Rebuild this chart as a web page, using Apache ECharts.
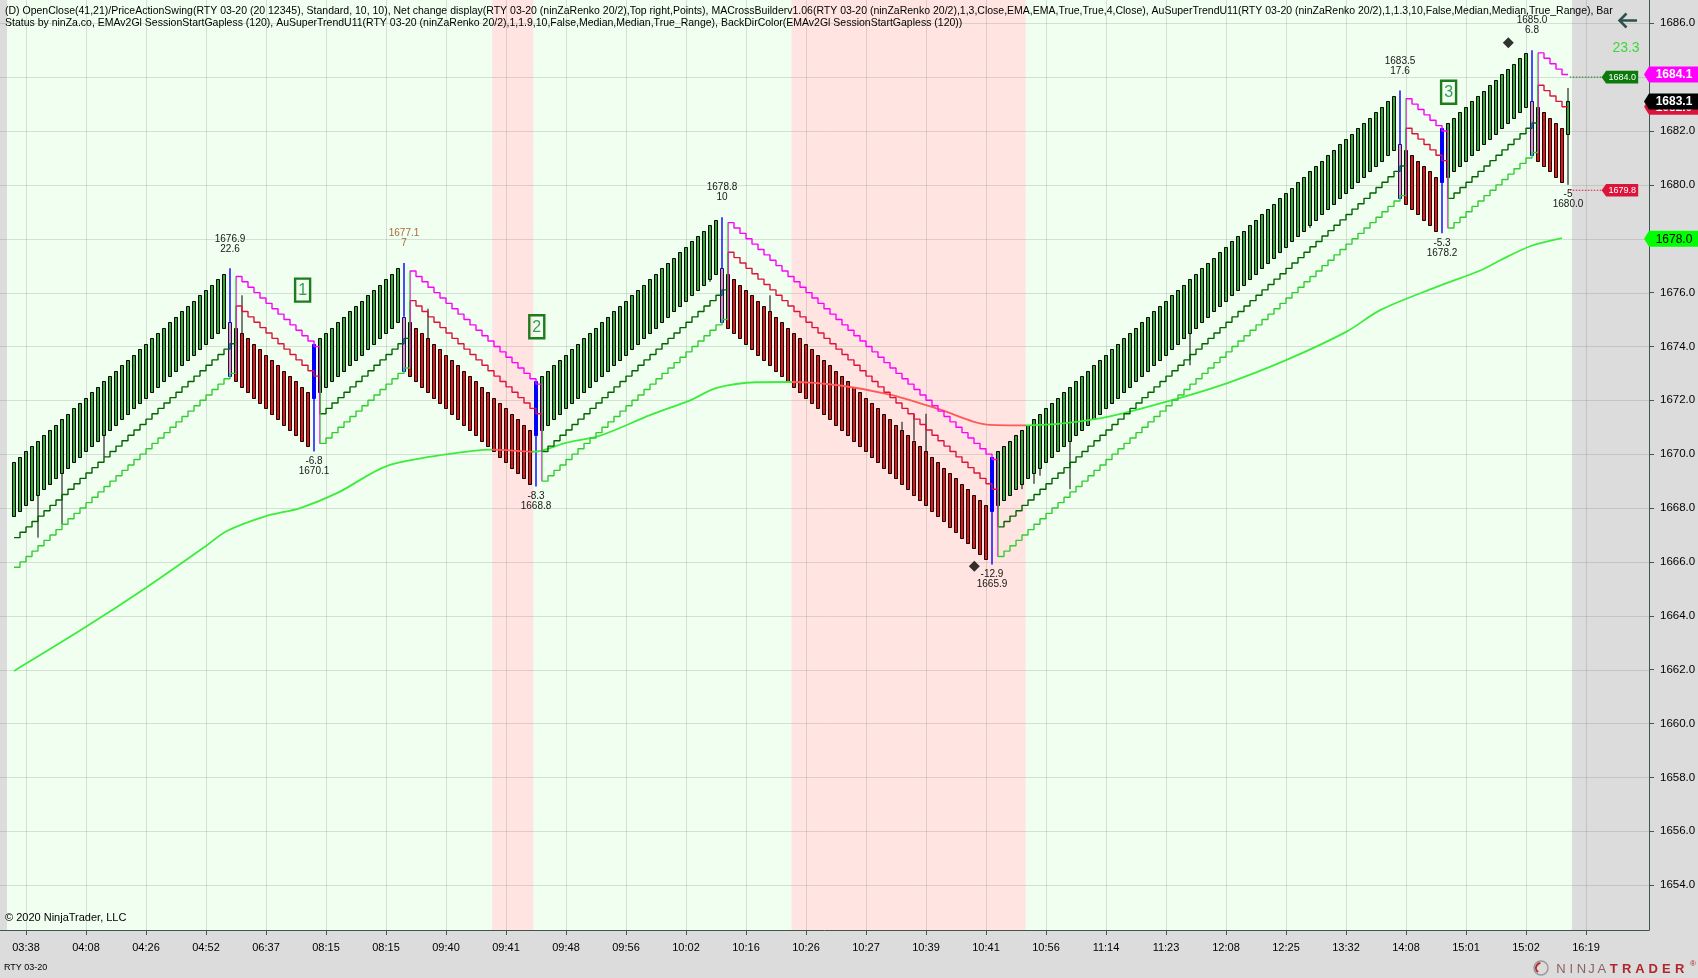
<!DOCTYPE html>
<html><head><meta charset="utf-8">
<script src="https://cdn.jsdelivr.net/npm/echarts@6/dist/echarts.min.js"></script>
<style>html,body{margin:0;padding:0;background:#dcdcdc;overflow:hidden}#c{width:1698px;height:978px}</style>
</head><body><div id="c"></div>
<script>
// ---------- DATA ----------
const closes = [
1669.7,1669.9,1670.1,1670.3,1670.5,1670.7,1670.9,1671.1,1671.3,1671.5,
1671.7,1671.9,1672.1,1672.3,1672.5,1672.7,1672.9,1673.1,1673.3,1673.5,
1673.7,1673.9,1674.1,1674.3,1674.5,1674.7,1674.9,1675.1,1675.3,1675.5,
1675.7,1675.9,1676.1,1676.3,1676.5,1676.7,
1672.9,
1672.7,1672.5,1672.3,1672.1,1671.9,1671.7,1671.5,1671.3,1671.1,1670.9,1670.7,1670.5,1670.3,
1674.1,
1674.3,1674.5,1674.7,1674.9,1675.1,1675.3,1675.5,1675.7,1675.9,1676.1,1676.3,1676.5,1676.7,1676.9,
1673.1,
1672.9,1672.7,1672.5,1672.3,1672.1,1671.9,1671.7,1671.5,1671.3,1671.1,
1670.9,1670.7,1670.5,1670.3,1670.1,1669.9,1669.7,1669.5,1669.3,1669.1,1668.9,
1672.7,
1672.9,1673.1,1673.3,1673.5,1673.7,1673.9,1674.1,1674.3,1674.5,1674.7,
1674.9,1675.1,1675.3,1675.5,1675.7,1675.9,1676.1,1676.3,1676.5,1676.7,
1676.9,1677.1,1677.3,1677.5,1677.7,1677.9,1678.1,1678.3,1678.5,1678.7,
1674.9,
1674.7,1674.5,1674.3,1674.1,1673.9,1673.7,1673.5,1673.3,1673.1,1672.9,
1672.7,1672.5,1672.3,1672.1,1671.9,1671.7,1671.5,1671.3,1671.1,1670.9,
1670.7,1670.5,1670.3,1670.1,1669.9,1669.7,1669.5,1669.3,1669.1,1668.9,
1668.7,1668.5,1668.3,1668.1,1667.9,1667.7,1667.5,1667.3,1667.1,1666.9,
1666.7,1666.5,1666.3,1666.1,
1669.9,
1670.1,1670.3,1670.5,1670.7,1670.9,1671.1,1671.3,1671.5,1671.7,1671.9,
1672.1,1672.3,1672.5,1672.7,1672.9,1673.1,1673.3,1673.5,1673.7,1673.9,
1674.1,1674.3,1674.5,1674.7,1674.9,1675.1,1675.3,1675.5,1675.7,1675.9,
1676.1,1676.3,1676.5,1676.7,1676.9,1677.1,1677.3,1677.5,1677.7,1677.9,
1678.1,1678.3,1678.5,1678.7,1678.9,1679.1,1679.3,1679.5,1679.7,1679.9,
1680.1,1680.3,1680.5,1680.7,1680.9,1681.1,1681.3,1681.5,1681.7,1681.9,
1682.1,1682.3,1682.5,1682.7,1682.9,1683.1,1683.3,
1679.5,
1679.3,1679.1,1678.9,1678.7,1678.5,1678.3,
1682.1,
1682.3,1682.5,1682.7,1682.9,1683.1,1683.3,1683.5,1683.7,1683.9,1684.1,1684.3,1684.5,1684.7,1684.9,
1681.1,
1680.9,1680.7,1680.5,1680.3,1680.1,
1683.1
];
const opens = [
1667.7,1667.9,1668.1,1668.3,1668.5,1668.7,1668.9,1669.1,1669.3,1669.5,
1669.7,1669.9,1670.1,1670.3,1670.5,1670.7,1670.9,1671.1,1671.3,1671.5,
1671.7,1671.9,1672.1,1672.3,1672.5,1672.7,1672.9,1673.1,1673.3,1673.5,
1673.7,1673.9,1674.1,1674.3,1674.5,1674.7,
1674.9,
1674.7,1674.5,1674.3,1674.1,1673.9,1673.7,1673.5,1673.3,1673.1,1672.9,1672.7,1672.5,1672.3,
1672.1,
1672.3,1672.5,1672.7,1672.9,1673.1,1673.3,1673.5,1673.7,1673.9,1674.1,1674.3,1674.5,1674.7,1674.9,
1675.1,
1674.9,1674.7,1674.5,1674.3,1674.1,1673.9,1673.7,1673.5,1673.3,1673.1,
1672.9,1672.7,1672.5,1672.3,1672.1,1671.9,1671.7,1671.5,1671.3,1671.1,1670.9,
1670.7,
1670.9,1671.1,1671.3,1671.5,1671.7,1671.9,1672.1,1672.3,1672.5,1672.7,
1672.9,1673.1,1673.3,1673.5,1673.7,1673.9,1674.1,1674.3,1674.5,1674.7,
1674.9,1675.1,1675.3,1675.5,1675.7,1675.9,1676.1,1676.3,1676.5,1676.7,
1676.9,
1676.7,1676.5,1676.3,1676.1,1675.9,1675.7,1675.5,1675.3,1675.1,1674.9,
1674.7,1674.5,1674.3,1674.1,1673.9,1673.7,1673.5,1673.3,1673.1,1672.9,
1672.7,1672.5,1672.3,1672.1,1671.9,1671.7,1671.5,1671.3,1671.1,1670.9,
1670.7,1670.5,1670.3,1670.1,1669.9,1669.7,1669.5,1669.3,1669.1,1668.9,
1668.7,1668.5,1668.3,1668.1,
1667.9,
1668.1,1668.3,1668.5,1668.7,1668.9,1669.1,1669.3,1669.5,1669.7,1669.9,
1670.1,1670.3,1670.5,1670.7,1670.9,1671.1,1671.3,1671.5,1671.7,1671.9,
1672.1,1672.3,1672.5,1672.7,1672.9,1673.1,1673.3,1673.5,1673.7,1673.9,
1674.1,1674.3,1674.5,1674.7,1674.9,1675.1,1675.3,1675.5,1675.7,1675.9,
1676.1,1676.3,1676.5,1676.7,1676.9,1677.1,1677.3,1677.5,1677.7,1677.9,
1678.1,1678.3,1678.5,1678.7,1678.9,1679.1,1679.3,1679.5,1679.7,1679.9,
1680.1,1680.3,1680.5,1680.7,1680.9,1681.1,1681.3,
1681.5,
1681.3,1681.1,1680.9,1680.7,1680.5,1680.3,
1680.1,
1680.3,1680.5,1680.7,1680.9,1681.1,1681.3,1681.5,1681.7,1681.9,1682.1,1682.3,1682.5,1682.7,1682.9,
1683.1,
1682.9,1682.7,1682.5,1682.3,1682.1,
1681.9
];
// AuSuperTrend (1.3) – inner trailing line
const innerBand = [
1666.9,1667.1,1667.3,1667.5,1667.7,1667.9,1668.1,1668.3,1668.5,1668.7,
1668.9,1669.1,1669.3,1669.5,1669.7,1669.9,1670.1,1670.3,1670.5,1670.7,
1670.9,1671.1,1671.3,1671.5,1671.7,1671.9,1672.1,1672.3,1672.5,1672.7,
1672.9,1673.1,1673.3,1673.5,1673.7,1673.9,
1674.1,
1675.5,1675.3,1675.1,1674.9,1674.7,1674.5,1674.3,1674.1,1673.9,1673.7,1673.5,1673.3,1673.1,
1672.9,
1671.5,1671.7,1671.9,1672.1,1672.3,1672.5,1672.7,1672.9,1673.1,1673.3,1673.5,1673.7,1673.9,1674.1,
1674.3,
1675.7,1675.5,1675.3,1675.1,1674.9,1674.7,1674.5,1674.3,1674.1,1673.9,
1673.7,1673.5,1673.3,1673.1,1672.9,1672.7,1672.5,1672.3,1672.1,1671.9,1671.7,
1671.5,
1670.1,1670.3,1670.5,1670.7,1670.9,1671.1,1671.3,1671.5,1671.7,1671.9,
1672.1,1672.3,1672.5,1672.7,1672.9,1673.1,1673.3,1673.5,1673.7,1673.9,
1674.1,1674.3,1674.5,1674.7,1674.9,1675.1,1675.3,1675.5,1675.7,1675.9,
1676.1,
1677.5,1677.3,1677.1,1676.9,1676.7,1676.5,1676.3,1676.1,1675.9,1675.7,
1675.5,1675.3,1675.1,1674.9,1674.7,1674.5,1674.3,1674.1,1673.9,1673.7,
1673.5,1673.3,1673.1,1672.9,1672.7,1672.5,1672.3,1672.1,1671.9,1671.7,
1671.5,1671.3,1671.1,1670.9,1670.7,1670.5,1670.3,1670.1,1669.9,1669.7,
1669.5,1669.3,1669.1,1668.9,
1668.7,
1667.3,1667.5,1667.7,1667.9,1668.1,1668.3,1668.5,1668.7,1668.9,1669.1,
1669.3,1669.5,1669.7,1669.9,1670.1,1670.3,1670.5,1670.7,1670.9,1671.1,
1671.3,1671.5,1671.7,1671.9,1672.1,1672.3,1672.5,1672.7,1672.9,1673.1,
1673.3,1673.5,1673.7,1673.9,1674.1,1674.3,1674.5,1674.7,1674.9,1675.1,
1675.3,1675.5,1675.7,1675.9,1676.1,1676.3,1676.5,1676.7,1676.9,1677.1,
1677.3,1677.5,1677.7,1677.9,1678.1,1678.3,1678.5,1678.7,1678.9,1679.1,
1679.3,1679.5,1679.7,1679.9,1680.1,1680.3,1680.5,
1680.7,
1682.1,1681.9,1681.7,1681.5,1681.3,1681.1,
1680.9,
1679.5,1679.7,1679.9,1680.1,1680.3,1680.5,1680.7,1680.9,1681.1,1681.3,1681.5,1681.7,1681.9,1682.1,
1682.3,
1683.7,1683.5,1683.3,1683.1,1682.9,
1682.9
];
// AuSuperTrend (1.9) – outer trailing line
const outerBand = [
1665.8,1666.0,1666.2,1666.4,1666.6,1666.8,1667.0,1667.2,1667.4,1667.6,
1667.8,1668.0,1668.2,1668.4,1668.6,1668.8,1669.0,1669.2,1669.4,1669.6,
1669.8,1670.0,1670.2,1670.4,1670.6,1670.8,1671.0,1671.2,1671.4,1671.6,
1671.8,1672.0,1672.2,1672.4,1672.6,1672.8,
1673.0,
1676.6,1676.4,1676.2,1676.0,1675.8,1675.6,1675.4,1675.2,1675.0,1674.8,1674.6,1674.4,1674.2,
1674.0,
1670.4,1670.6,1670.8,1671.0,1671.2,1671.4,1671.6,1671.8,1672.0,1672.2,1672.4,1672.6,1672.8,1673.0,
1673.2,
1676.8,1676.6,1676.4,1676.2,1676.0,1675.8,1675.6,1675.4,1675.2,1675.0,
1674.8,1674.6,1674.4,1674.2,1674.0,1673.8,1673.6,1673.4,1673.2,1673.0,1672.8,
1672.6,
1669.0,1669.2,1669.4,1669.6,1669.8,1670.0,1670.2,1670.4,1670.6,1670.8,
1671.0,1671.2,1671.4,1671.6,1671.8,1672.0,1672.2,1672.4,1672.6,1672.8,
1673.0,1673.2,1673.4,1673.6,1673.8,1674.0,1674.2,1674.4,1674.6,1674.8,
1675.0,
1678.6,1678.4,1678.2,1678.0,1677.8,1677.6,1677.4,1677.2,1677.0,1676.8,
1676.6,1676.4,1676.2,1676.0,1675.8,1675.6,1675.4,1675.2,1675.0,1674.8,
1674.6,1674.4,1674.2,1674.0,1673.8,1673.6,1673.4,1673.2,1673.0,1672.8,
1672.6,1672.4,1672.2,1672.0,1671.8,1671.6,1671.4,1671.2,1671.0,1670.8,
1670.6,1670.4,1670.2,1670.0,
1669.8,
1666.2,1666.4,1666.6,1666.8,1667.0,1667.2,1667.4,1667.6,1667.8,1668.0,
1668.2,1668.4,1668.6,1668.8,1669.0,1669.2,1669.4,1669.6,1669.8,1670.0,
1670.2,1670.4,1670.6,1670.8,1671.0,1671.2,1671.4,1671.6,1671.8,1672.0,
1672.2,1672.4,1672.6,1672.8,1673.0,1673.2,1673.4,1673.6,1673.8,1674.0,
1674.2,1674.4,1674.6,1674.8,1675.0,1675.2,1675.4,1675.6,1675.8,1676.0,
1676.2,1676.4,1676.6,1676.8,1677.0,1677.2,1677.4,1677.6,1677.8,1678.0,
1678.2,1678.4,1678.6,1678.8,1679.0,1679.2,1679.4,
1679.6,
1683.2,1683.0,1682.8,1682.6,1682.4,1682.2,
1682.0,
1678.4,1678.6,1678.8,1679.0,1679.2,1679.4,1679.6,1679.8,1680.0,1680.2,1680.4,1680.6,1680.8,1681.0,
1681.2,
1684.9,1684.7,1684.5,1684.3,1684.1,
1684.1
];
// bar wicks (far end of the shadow)
const wickIdx = [4,8,15,38,69,116,126,148,150,152,168,170,171,176,196,216,259,259];
const wickEnd = [1666.9,1667.4,1669.9,1675.9,1675.4,1676.4,1675.9,1671.2,1671.5,1671.5,1668.7,1668.9,1669.2,1668.7,1673.3,1678.4,1683.6,1680.0];
// reversal bars
const reversalTop = [36,65,118,231,253];
const reversalBottom = [50,87,163,238];
// swing points (PriceActionSwing)
const swingIdx = [36,50,65,87,118,163,231,238,253,259];
const swingPrice = [1676.9,1670.1,1677.1,1668.8,1678.8,1665.9,1683.5,1678.2,1685.0,1680.0];
const swingSize = ['22.6','-6.8','7','-8.3','10','-12.9','17.6','-5.3','6.8','-5'];
const swingIsHigh = [true,false,true,false,true,false,true,false,true,false];
const swingColor = ['#151515','#151515','#a86c3c','#151515','#151515','#151515','#151515','#151515','#151515','#151515'];
// EMA (120) knots
const emaX = [0,11.8,22,32,35.4,42,47.7,54,62,72,79.7,86.55,92,97.7,106,112.7,117.1,123.8,129.6,137.7,146,154.3,162.1,168.6,181,192.1,202.1,212.1,222.1,227.7,237,244.6,247.7,252.7,258];
const emaY = [1661.95,1663.56,1665.04,1666.59,1667.14,1667.7,1668.0,1668.57,1669.55,1669.99,1670.17,1670.09,1670.42,1670.69,1671.45,1672.0,1672.46,1672.67,1672.68,1672.55,1672.21,1671.66,1671.1,1671.07,1671.33,1671.95,1672.63,1673.5,1674.55,1675.35,1676.2,1676.84,1677.2,1677.72,1678.02];
const fallRanges = [[79.7,86.55],[129.6,168.6]];
// axes
const tickIdx = [2,12,22,32,42,52,62,72,82,92,102,112,122,132,142,152,162,172,182,192,202,212,222,232,242,252,262];
const tickLabels = ['03:38','04:08','04:26','04:52','06:37','08:15','08:15','09:40','09:41','09:48','09:56','10:02','10:16','10:26','10:27','10:39','10:41','10:56','11:14','11:23','12:08','12:25','13:32','14:08','15:01','15:02','16:19'];
const priceTicks = [1654,1656,1658,1660,1662,1664,1666,1668,1670,1672,1674,1676,1678,1680,1682,1684,1686];
// annotations
const boxIdx = [48.1,87.13,239.1];
const boxPrice = [1676.09,1674.73,1683.44];
const boxText = ['1','2','3'];
const diamondIdx = [160.05,249.05];
const diamondPrice = [1665.84,1685.28];
const axisTagPrice = [1682.9,1683.1,1684.1,1678.0];
const axisTagText = ['1682.9','1683.1','1684.1','1678.0'];
const axisTagColor = ['#dc143c','#000000','#ff00ff','#00ff00'];
const axisTagTextColor = ['#ffffff','#ffffff','#ffffff','#000000'];
const plotTagPrice = [1684.0,1679.8];
const plotTagText = ['1684.0','1679.8'];
const plotTagColor = ['#0a7a0a','#dc143c'];
const netChange = '23.3';
const titleLine1 = '(D) OpenClose(41,21)/PriceActionSwing(RTY 03-20 (20 12345), Standard, 10, 10), Net change display(RTY 03-20 (ninZaRenko 20/2),Top right,Points), MACrossBuilderv1.06(RTY 03-20 (ninZaRenko 20/2),1,3,Close,EMA,EMA,True,True,4,Close), AuSuperTrendU11(RTY 03-20 (ninZaRenko 20/2),1,1.3,10,False,Median,Median,True_Range), Bar';
const titleLine2 = 'Status by ninZa.co, EMAv2Gl SessionStartGapless (120), AuSuperTrendU11(RTY 03-20 (ninZaRenko 20/2),1,1.9,10,False,Median,Median,True_Range), BackDirColor(EMAv2Gl SessionStartGapless (120))';

// ---------- CHART ----------
const FONT = '"Liberation Sans", Arial, Helvetica, sans-serif';
const X_MIN = -14/6, X_MAX = 272.5, Y_MIN = 1652.331, Y_MAX = 1686.865;
const reversalAll = reversalTop.concat(reversalBottom).sort((a,b)=>a-b);
function trendPieces(upColor, downColor){
  const pieces = []; let prev = null; let up = true;
  reversalAll.forEach(r => {
    const b = r + 0.95; const p = {color: up ? upColor : downColor, lt: b};
    if (prev !== null) p.gte = prev;
    pieces.push(p); prev = b; up = !up;
  });
  pieces.push({gte: prev, color: up ? upColor : downColor});
  return pieces;
}
function emaPieces(g, r){
  const pieces = []; let prev = null;
  fallRanges.forEach(([a,b]) => {
    const p = {color: g, lt: a}; if (prev !== null) p.gte = prev; pieces.push(p);
    pieces.push({gte: a, lt: b, color: r}); prev = b;
  });
  pieces.push({gte: prev, color: g});
  return pieces;
}
const bgRanges = [[-14/6 + 7/6, 259.67, '#f0fff0']].concat(fallRanges.map(r => [r[0], r[1], '#ffe4e1']));

const chart = echarts.init(document.getElementById('c'), null, {renderer:'canvas'});
const option = {
  animation: false,
  backgroundColor: '#dcdcdc',
  textStyle: {fontFamily: FONT},
  grid: {left: 0, top: 0, width: 1649, height: 930, outerBoundsMode: 'none', containLabel: false},
  xAxis: {
    type: 'value', min: X_MIN, max: X_MAX,
    axisLine: {show: true, onZero: false, lineStyle: {color: '#405555', width: 1}},
    axisTick: {show: true, customValues: tickIdx, length: 5, lineStyle: {color: '#405555'}},
    axisLabel: {show: true, customValues: tickIdx, formatter: v => tickLabels[tickIdx.indexOf(Math.round(v))] || '', fontSize: 11, color: '#000', margin: 12, fontFamily: FONT},
    splitLine: {show: false}
  },
  yAxis: {
    type: 'value', position: 'right', min: Y_MIN, max: Y_MAX, scale: true,
    axisLine: {show: true, onZero: false, lineStyle: {color: '#405555', width: 1}},
    axisTick: {show: true, customValues: priceTicks, length: 5, lineStyle: {color: '#405555'}},
    axisLabel: {show: true, customValues: priceTicks, formatter: v => Number(v).toFixed(1), fontSize: 11.5, color: '#000', margin: 11, fontFamily: FONT},
    splitLine: {show: false}
  },
  visualMap: [
    {type: 'piecewise', show: false, seriesIndex: 4, dimension: 0, pieces: emaPieces('#3cec3c', '#ff5a5a')},
    {type: 'piecewise', show: false, seriesIndex: 5, dimension: 0, pieces: trendPieces('#006400', '#dc143c')},
    {type: 'piecewise', show: false, seriesIndex: 6, dimension: 0, pieces: trendPieces('#32cd32', '#ff00ff')}
  ],
  graphic: [
    {type:'text', z:100, style:{text: titleLine1, x:5, y:11.5, verticalAlign:'middle', fill:'#000', font:'10.5px '+FONT}},
    {type:'text', z:100, style:{text: titleLine2, x:5, y:23.5, verticalAlign:'middle', fill:'#000', font:'10.5px '+FONT}},
    {type:'text', z:100, style:{text: '\u00a9 2020 NinjaTrader, LLC', x:5, y:918, verticalAlign:'middle', fill:'#000', font:'11px '+FONT}},
    {type:'text', z:100, style:{text: 'RTY 03-20', x:4, y:968, verticalAlign:'middle', fill:'#000', font:'9px '+FONT}},
    {type:'text', z:100, style:{text: netChange, x:1626, y:48.5, align:'center', verticalAlign:'middle', fill:'#3ad83a', font:'14px '+FONT}},
    {type:'polyline', z:100, shape:{points:[[1637,20.5],[1619.5,20.5]]}, style:{stroke:'#2f4f4f', lineWidth:2.5, fill:null}},
    {type:'polyline', z:100, shape:{points:[[1626.5,13.5],[1619.5,20.5],[1626.5,27.5]]}, style:{stroke:'#2f4f4f', lineWidth:2.5, fill:null}},
    {type:'circle', z:100, shape:{cx:1541, cy:968, r:7}, style:{fill:null, stroke:'#9a9a9a', lineWidth:1.5}},
    {type:'arc', z:100, shape:{cx:1541, cy:968, r:5, startAngle:2.2, endAngle:4.6}, style:{fill:null, stroke:'#b22a2a', lineWidth:2}},
    ...'NINJA'.split('').map((ch,k)=>({type:'text', z:100, style:{text: ch, x:1561 + k*10.2, y:969, align:'center', verticalAlign:'middle', fill:'#8c6262', font:'13px '+FONT}})),
    ...'TRADER'.split('').map((ch,k)=>({type:'text', z:100, style:{text: ch, x:1613.6 + k*13.2, y:969, align:'center', verticalAlign:'middle', fill:'#b1262c', font:'bold 13px '+FONT}})),
    {type:'text', z:100, style:{text: '\u00ae', x:1690, y:964, verticalAlign:'middle', fill:'#b1262c', font:'8px '+FONT}}
  ],
  series: [
    // 0 backgrounds
    {type:'custom', z:0, silent:true, clip:true, data: bgRanges.map(r => [r[0], Y_MIN]),
      renderItem(params, api){
        const r = bgRanges[params.dataIndex]; const cs = params.coordSys;
        const x1 = api.coord([r[0], Y_MIN])[0], x2 = api.coord([r[1], Y_MIN])[0];
        return {type:'rect', shape:{x:x1, y:cs.y, width:x2-x1, height:cs.height}, style:{fill:r[2]}};
      }},
    // 1 grid lines
    {type:'custom', z:1, silent:true, clip:true, data: tickIdx.map(v=>[v, Y_MIN]).concat(priceTicks.map(p=>[X_MIN, p])),
      renderItem(params, api){
        const cs = params.coordSys; const k = params.dataIndex;
        if (k < tickIdx.length){
          const x = Math.round(api.coord([tickIdx[k], Y_MIN])[0]) + 0.5;
          return {type:'line', shape:{x1:x, y1:cs.y, x2:x, y2:cs.y+cs.height}, style:{stroke:'rgba(110,120,110,0.22)', lineWidth:1}};
        }
        const p = priceTicks[k - tickIdx.length];
        const y = Math.round(api.coord([X_MIN, p])[1]) + 0.5;
        return {type:'line', shape:{x1:cs.x, y1:y, x2:cs.x+cs.width, y2:y}, style:{stroke:'rgba(110,120,110,0.22)', lineWidth:1}};
      }},
    // 2 renko bars
    {type:'custom', z:4, silent:true, clip:true, data: closes.map((c,i)=>[i, c]),
      renderItem(params, api){
        const i = params.dataIndex; const o = opens[i], c = closes[i];
        const top = api.coord([i, Math.max(o,c)]), bot = api.coord([i, Math.min(o,c)]);
        let fill = c > o ? '#22b422' : '#ff0a0a', stroke = '#000';
        if (reversalBottom.indexOf(i) >= 0){ fill = '#0000ff'; stroke = '#0000ff'; }
        else if (reversalTop.indexOf(i) >= 0){ fill = '#ffa500'; stroke = '#0000ff'; }
        const x = Math.round(top[0]) - 1.5;
        return {type:'rect', shape:{x: x, y: Math.round(top[1]) + 0.5, width: 3, height: Math.round(bot[1]) - Math.round(top[1])}, style:{fill, stroke, lineWidth:1}};
      }},
    // 3 wicks
    {type:'custom', z:3, silent:true, clip:true, data: wickIdx.concat(reversalAll).map(i=>[i, closes[i]]),
      renderItem(params, api){
        const k = params.dataIndex; let i, e, col, lw;
        if (k < wickIdx.length){ i = wickIdx[k]; e = wickEnd[k]; col = '#000'; lw = 1; }
        else { i = reversalAll[k - wickIdx.length]; e = swingPrice[swingIdx.indexOf(i)]; col = '#0000ff'; lw = 1.4; }
        const o = opens[i], c = closes[i];
        const edge = e > Math.max(o,c) ? Math.max(o,c) : Math.min(o,c);
        const p1 = api.coord([i, edge]), p2 = api.coord([i, e]);
        const x = Math.round(p1[0]);
        return {type:'line', shape:{x1:x, y1:p1[1], x2:x, y2:p2[1]}, style:{stroke:col, lineWidth:lw}};
      }},
    // 4 EMA
    {type:'line', z:5, silent:true, showSymbol:false, smooth:0.3, data: emaX.map((x,k)=>[x, emaY[k]]), lineStyle:{width:1.8}},
    // 5 inner supertrend
    {type:'line', z:5, silent:true, showSymbol:false, step:'end', data: innerBand.map((v,i)=>[i, v]), lineStyle:{width:1.4}},
    // 6 outer supertrend
    {type:'line', z:5, silent:true, showSymbol:false, step:'end', data: outerBand.map((v,i)=>[i, v]), lineStyle:{width:1.4}},
    // 7 swing labels
    {type:'custom', z:8, silent:true, clip:false, data: swingIdx.map((x,k)=>[x, swingPrice[k]]),
      renderItem(params, api){
        const k = params.dataIndex; const pt = api.coord([swingIdx[k], swingPrice[k]]);
        const hi = swingIsHigh[k];
        const lines = hi ? [swingPrice[k].toFixed(1), swingSize[k]] : [swingSize[k], swingPrice[k].toFixed(1)];
        const ys = hi ? [pt[1]-29.5, pt[1]-19.5] : [pt[1]+9.5, pt[1]+19.5];
        return {type:'group', children: lines.map((t,j)=>({type:'text', style:{text:t, x:pt[0], y:ys[j], align:'center', verticalAlign:'middle', fill:swingColor[k], font:'10px '+FONT}}))};
      }},
    // 8 numbered boxes
    {type:'custom', z:8, silent:true, clip:false, data: boxIdx.map((x,k)=>[x, boxPrice[k]]),
      renderItem(params, api){
        const k = params.dataIndex; const pt = api.coord([boxIdx[k], boxPrice[k]]);
        return {type:'group', children:[
          {type:'rect', shape:{x:pt[0]-7.5, y:pt[1]-11.5, width:15, height:23}, style:{fill:null, stroke:'#1e7b1e', lineWidth:2.4}},
          {type:'text', style:{text:boxText[k], x:pt[0], y:pt[1]+0.5, align:'center', verticalAlign:'middle', fill:'#3a9a5a', font:'16px '+FONT}}
        ]};
      }},
    // 9 diamonds
    {type:'scatter', z:8, silent:true, symbol:'diamond', symbolSize:11, itemStyle:{color:'#000'}, data: diamondIdx.map((x,k)=>[x, diamondPrice[k]])},
    // 10 in-plot price tags
    {type:'custom', z:9, silent:true, clip:false, data: plotTagPrice.map(p=>[262, p]),
      renderItem(params, api){
        const k = params.dataIndex; const p = plotTagPrice[k];
        const tip = api.coord([264.6, p]); const y = tip[1];
        const xs = api.coord([259.3, p])[0], xr = api.coord([270.7, p])[0];
        return {type:'group', children:[
          {type:'line', shape:{x1:xs, y1:y, x2:tip[0], y2:y}, style:{stroke:plotTagColor[k], lineWidth:1, lineDash:[1.5,1.5]}},
          {type:'polygon', shape:{points:[[tip[0],y],[tip[0]+4.5,y-6.3],[xr,y-6.3],[xr,y+6.3],[tip[0]+4.5,y+6.3]]}, style:{fill:plotTagColor[k]}},
          {type:'text', style:{text:plotTagText[k], x:(tip[0]+4.5+xr)/2, y:y+0.5, align:'center', verticalAlign:'middle', fill:'#fff', font:'9px '+FONT}}
        ]};
      }},
    // 11 axis price tags
    {type:'custom', z:20, silent:true, clip:false, data: axisTagPrice.map(p=>[X_MAX, p]),
      renderItem(params, api){
        const k = params.dataIndex; const p = axisTagPrice[k];
        const pt = api.coord([X_MAX, p]); const y = pt[1], xr = pt[0];
        return {type:'group', children:[
          {type:'polygon', shape:{points:[[xr-5,y],[xr,y-8],[1698,y-8],[1698,y+8],[xr,y+8]]}, style:{fill:axisTagColor[k]}},
          {type:'text', style:{text:axisTagText[k], x:xr+25, y:y+0.5, align:'center', verticalAlign:'middle', fill:axisTagTextColor[k], font:(axisTagTextColor[k]==='#ffffff'?'bold ':'')+'12px '+FONT}}
        ]};
      }}
  ]
};
chart.setOption(option);
</script>
</body></html>
